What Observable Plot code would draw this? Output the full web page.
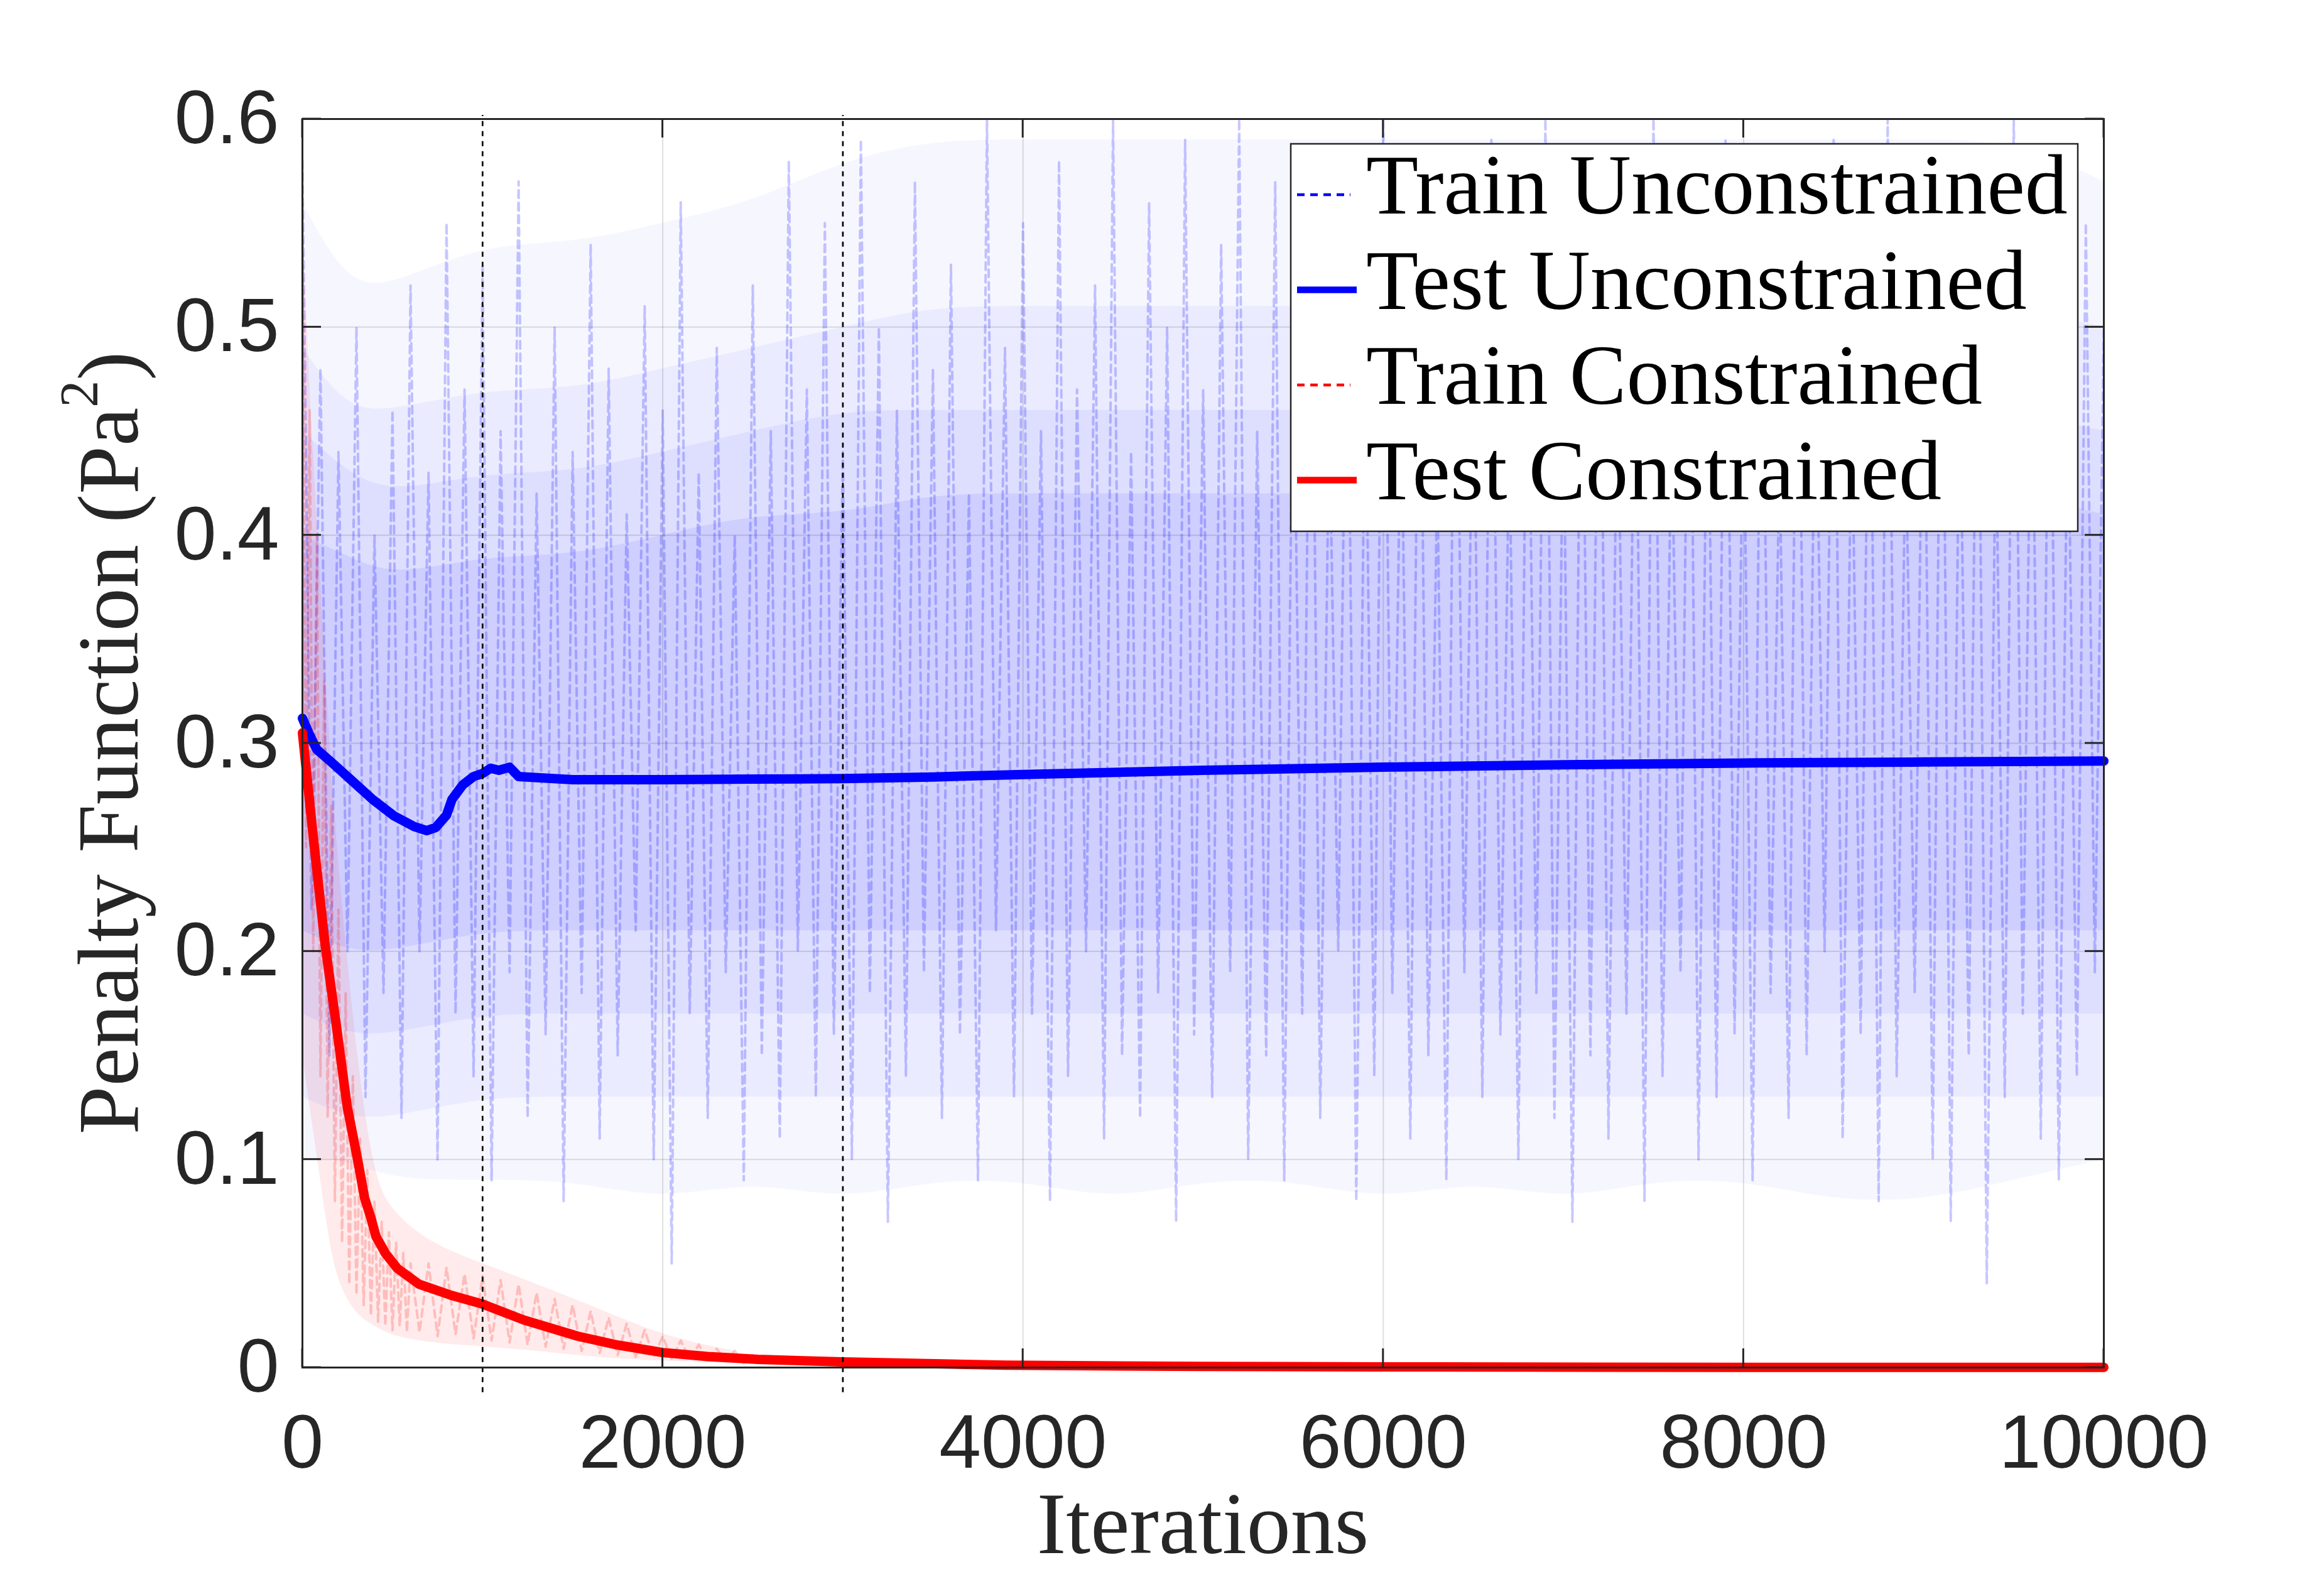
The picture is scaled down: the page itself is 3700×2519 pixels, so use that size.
<!DOCTYPE html>
<html>
<head>
<meta charset="utf-8">
<script src="https://cdn.jsdelivr.net/npm/d3@7"></script>
<script src="https://cdn.jsdelivr.net/npm/@observablehq/plot@0.6"></script>
<style>
  html, body { margin: 0; padding: 0; background: #ffffff; }
  #chart svg { display: block; }
</style>
</head>
<body>
<div id="chart"></div>
<script>
// ---------- data ----------
const xTicks = [0, 2000, 4000, 6000, 8000, 10000];
const yTicks = [0, 0.1, 0.2, 0.3, 0.4, 0.5, 0.6];
const yTickLabels = ["0", "0.1", "0.2", "0.3", "0.4", "0.5", "0.6"];
const vlineIters = [1000, 3000];

const seriesNames = ["Train Unconstrained", "Test Unconstrained", "Train Constrained", "Test Constrained"];

// Test Unconstrained (solid blue)
const testUncIters = [0, 40, 80, 160, 275, 390, 510, 620, 690, 740, 800, 830, 890, 950, 1000, 1045, 1090, 1150, 1200, 1320, 1500, 2000, 2500, 3000, 3500, 4000, 5000, 6000, 7000, 8000, 9000, 10000];
const testUncVals = [0.312, 0.304, 0.297, 0.291, 0.282, 0.273, 0.265, 0.260, 0.258, 0.2595, 0.2655, 0.273, 0.280, 0.284, 0.2855, 0.288, 0.287, 0.2885, 0.284, 0.2834, 0.2825, 0.2825, 0.2828, 0.283, 0.2838, 0.285, 0.287, 0.2885, 0.2897, 0.2905, 0.291, 0.2915];

// Test Constrained (solid red)
const testConIters = [0, 60, 126, 188, 248, 307, 345, 380, 408, 460, 526, 648, 826, 1000, 1227, 1527, 1750, 2000, 2250, 2528, 3000, 3900, 5000, 6000, 8000, 10000];
const testConVals = [0.305, 0.255, 0.203, 0.1645, 0.1256, 0.0996, 0.0815, 0.072, 0.063, 0.055, 0.0477, 0.040, 0.0347, 0.0305, 0.0229, 0.0151, 0.0108, 0.0072, 0.0053, 0.0039, 0.0027, 0.0011, 0.0005, 0.0003, 0.0001, 0.0001];

// Train Unconstrained: spread of the noisy training values (read envelope, outer to inner)
const bandIters = [0, 250, 500, 1000, 1500, 2000, 2500, 3000, 3500, 4000, 4500, 5000, 5500, 6000, 6500, 7000, 7500, 8000, 8500, 9000, 9500, 10000];
const outerLo = [0.10, 0.10, 0.09, 0.09, 0.09, 0.08, 0.09, 0.08, 0.09, 0.09, 0.08, 0.09, 0.09, 0.08, 0.09, 0.08, 0.09, 0.09, 0.08, 0.08, 0.09, 0.10];
const outerHi = [0.56, 0.52, 0.52, 0.54, 0.54, 0.55, 0.56, 0.58, 0.59, 0.59, 0.59, 0.59, 0.59, 0.59, 0.59, 0.59, 0.59, 0.59, 0.59, 0.59, 0.59, 0.57];
const midLo = [0.13, 0.12, 0.12, 0.13, 0.13, 0.13, 0.13, 0.13, 0.13, 0.13, 0.13, 0.13, 0.13, 0.13, 0.13, 0.13, 0.13, 0.13, 0.13, 0.13, 0.13, 0.13];
const midHi = [0.49, 0.46, 0.46, 0.47, 0.47, 0.48, 0.49, 0.50, 0.51, 0.51, 0.51, 0.51, 0.51, 0.51, 0.51, 0.51, 0.51, 0.51, 0.51, 0.51, 0.51, 0.50];
const innerLo = [0.17, 0.16, 0.16, 0.17, 0.17, 0.17, 0.17, 0.17, 0.17, 0.17, 0.17, 0.17, 0.17, 0.17, 0.17, 0.17, 0.17, 0.17, 0.17, 0.17, 0.17, 0.17];
const innerHi = [0.45, 0.43, 0.42, 0.43, 0.43, 0.44, 0.45, 0.46, 0.46, 0.46, 0.46, 0.46, 0.46, 0.46, 0.46, 0.46, 0.46, 0.46, 0.46, 0.46, 0.46, 0.45];
const coreLo = [0.21, 0.20, 0.20, 0.21, 0.21, 0.21, 0.21, 0.21, 0.21, 0.21, 0.21, 0.21, 0.21, 0.21, 0.21, 0.21, 0.21, 0.21, 0.21, 0.21, 0.21, 0.21];
const coreHi = [0.40, 0.39, 0.38, 0.39, 0.39, 0.40, 0.41, 0.41, 0.42, 0.42, 0.42, 0.42, 0.42, 0.42, 0.42, 0.42, 0.42, 0.42, 0.42, 0.42, 0.42, 0.41];

// Train Unconstrained: sampled spikes, one value every 50 iterations
const trainUncStep = 50;
const trainUncVals = [
  0.58, 0.22, 0.48, 0.15, 0.44, 0.20, 0.50, 0.13, 0.40, 0.18,
  0.46, 0.12, 0.52, 0.20, 0.43, 0.10, 0.55, 0.17, 0.47, 0.14,
  0.53, 0.09, 0.45, 0.19, 0.57, 0.12, 0.42, 0.16, 0.50, 0.08,
  0.44, 0.18, 0.54, 0.11, 0.48, 0.15, 0.41, 0.21, 0.51, 0.10,
  0.46, 0.05, 0.56, 0.17, 0.43, 0.12, 0.49, 0.19, 0.40, 0.09,
  0.52, 0.15, 0.45, 0.11, 0.58, 0.20, 0.47, 0.13, 0.55, 0.16,
  0.44, 0.10, 0.59, 0.18, 0.50, 0.07, 0.46, 0.14, 0.57, 0.19,
  0.48, 0.12, 0.53, 0.16, 0.42, 0.09, 0.60, 0.21, 0.49, 0.13,
  0.55, 0.17, 0.45, 0.08, 0.58, 0.14, 0.47, 0.20, 0.52, 0.11,
  0.60, 0.15, 0.44, 0.12, 0.56, 0.18, 0.50, 0.07, 0.59, 0.16,
  0.47, 0.13, 0.54, 0.19, 0.60, 0.10, 0.45, 0.15, 0.57, 0.09,
  0.51, 0.17, 0.58, 0.12, 0.46, 0.20, 0.55, 0.08, 0.49, 0.14,
  0.60, 0.18, 0.48, 0.11, 0.56, 0.15, 0.43, 0.09, 0.58, 0.19,
  0.50, 0.13, 0.59, 0.16, 0.45, 0.10, 0.54, 0.18, 0.60, 0.12,
  0.47, 0.07, 0.55, 0.15, 0.58, 0.11, 0.49, 0.17, 0.53, 0.08,
  0.60, 0.14, 0.46, 0.19, 0.57, 0.10, 0.51, 0.13, 0.59, 0.16,
  0.48, 0.09, 0.56, 0.18, 0.44, 0.12, 0.58, 0.15, 0.50, 0.20,
  0.59, 0.11, 0.47, 0.16, 0.55, 0.08, 0.60, 0.14, 0.45, 0.18,
  0.53, 0.10, 0.58, 0.07, 0.49, 0.15, 0.56, 0.04, 0.46, 0.13,
  0.60, 0.17, 0.52, 0.11, 0.57, 0.09, 0.48, 0.14, 0.55, 0.19,
  0.50
];

// Train Constrained: envelope of noisy training values
const redBandIters = [0, 50, 100, 150, 200, 300, 400, 500, 700, 1000, 1300, 1600, 2000, 2400];
const redBandLo = [0.15, 0.12, 0.09, 0.06, 0.04, 0.025, 0.02, 0.015, 0.012, 0.010, 0.008, 0.005, 0.003, 0.002];
const redBandHi = [0.55, 0.45, 0.38, 0.30, 0.24, 0.15, 0.09, 0.075, 0.06, 0.05, 0.04, 0.03, 0.015, 0.008];

// Train Constrained: sampled spikes
const trainConIters = d3.range(0, 601, 20).concat(d3.range(650, 2501, 50));
const trainConVals = [
  0.56, 0.25, 0.46, 0.20, 0.40, 0.14, 0.33, 0.12, 0.27, 0.08,
  0.22, 0.06, 0.18, 0.04, 0.14, 0.035, 0.11, 0.03, 0.095, 0.025,
  0.08, 0.022, 0.07, 0.02, 0.065, 0.018, 0.06, 0.02, 0.055, 0.017,
  0.05,
  0.017, 0.05, 0.015, 0.048, 0.016, 0.045, 0.014, 0.044, 0.013, 0.042,
  0.012, 0.04, 0.011, 0.036, 0.01, 0.033, 0.009, 0.03, 0.008, 0.027,
  0.007, 0.024, 0.006, 0.021, 0.005, 0.018, 0.005, 0.015, 0.004, 0.013,
  0.004, 0.011, 0.003, 0.009, 0.003, 0.008, 0.002, 0.006
];

// ---------- tables ----------
const testUnc = testUncIters.map((x, i) => ({x, y: testUncVals[i]}));
const testCon = testConIters.map((x, i) => ({x, y: testConVals[i]}));
const band = bandIters.map((x, i) => ({x,
  oLo: outerLo[i], oHi: outerHi[i], mLo: midLo[i], mHi: midHi[i],
  iLo: innerLo[i], iHi: innerHi[i], cLo: coreLo[i], cHi: coreHi[i]}));
const trainUnc = trainUncVals.map((y, i) => ({x: i * trainUncStep, y}));
const redBand = redBandIters.map((x, i) => ({x, lo: redBandLo[i], hi: redBandHi[i]}));
const trainCon = trainConIters.map((x, i) => ({x, y: trainConVals[i]}));

const BLUE = "#0000ff", RED = "#ff0000", AX = "#262626";
const SANS = "Liberation Sans, Arial, Helvetica, sans-serif";
const SERIF = "Liberation Serif, Times New Roman, serif";

const plot = Plot.plot({
  width: 3700,
  height: 2519,
  marginLeft: 481,
  marginRight: 351,
  marginTop: 189,
  marginBottom: 342,
  style: {background: "#ffffff", fontFamily: SANS, color: AX},
  x: {domain: [0, 10000]},
  y: {domain: [0, 0.6]},
  marks: [
    Plot.gridX(xTicks, {stroke: AX, strokeOpacity: 0.15, strokeWidth: 2}),
    Plot.gridY(yTicks, {stroke: AX, strokeOpacity: 0.15, strokeWidth: 2}),
    // train unconstrained spread
    Plot.areaY(band, {x: "x", y1: "oLo", y2: "oHi", fill: BLUE, fillOpacity: 0.035, curve: "basis"}),
    Plot.areaY(band, {x: "x", y1: "mLo", y2: "mHi", fill: BLUE, fillOpacity: 0.045, curve: "basis"}),
    Plot.areaY(band, {x: "x", y1: "iLo", y2: "iHi", fill: BLUE, fillOpacity: 0.055, curve: "basis"}),
    Plot.areaY(band, {x: "x", y1: "cLo", y2: "cHi", fill: BLUE, fillOpacity: 0.07, curve: "basis"}),
    Plot.lineY(trainUnc, {x: "x", y: "y", stroke: BLUE, strokeOpacity: 0.22, strokeWidth: 4, strokeDasharray: "12,8", clip: true}),
    // train constrained spread
    Plot.areaY(redBand, {x: "x", y1: "lo", y2: "hi", fill: RED, fillOpacity: 0.08, curve: "basis"}),
    Plot.lineY(trainCon, {x: "x", y: "y", stroke: RED, strokeOpacity: 0.2, strokeWidth: 4, strokeDasharray: "12,8", clip: true}),
    // test curves
    Plot.lineY(testUnc, {x: "x", y: "y", stroke: BLUE, strokeWidth: 15, strokeLinejoin: "round", strokeLinecap: "round"}),
    Plot.lineY(testCon, {x: "x", y: "y", stroke: RED, strokeWidth: 15, strokeLinejoin: "round", strokeLinecap: "round"}),
    // vertical dashed markers
    Plot.ruleX(vlineIters, {x: d => d, y1: -0.012, y2: 0.6018, stroke: "#000000", strokeWidth: 2.7, strokeDasharray: "8,8"}),
    Plot.frame({stroke: AX, strokeWidth: 3}),
    Plot.axisX(xTicks, {tickSize: 0, tickPadding: 74, fontSize: 120, fill: AX, tickFormat: d => String(d), label: null}),
    Plot.axisY(yTicks, {tickSize: 0, tickPadding: 37, fontSize: 120, fill: AX, tickFormat: (d, i) => yTickLabels[i], label: null})
  ]
});

document.getElementById("chart").appendChild(plot);

// ---------- MATLAB-style inward ticks, labels and legend ----------
const svg = d3.select(plot);
const sx = plot.scale("x"), sy = plot.scale("y");
const x0 = sx.apply(0), x1 = sx.apply(10000), y0 = sy.apply(0), y1 = sy.apply(0.6);
const TL = 30;
const tg = svg.append("g").attr("stroke", AX).attr("stroke-width", 3);
xTicks.forEach(v => {
  const px = sx.apply(v);
  tg.append("line").attr("x1", px).attr("x2", px).attr("y1", y0).attr("y2", y0 - TL);
  tg.append("line").attr("x1", px).attr("x2", px).attr("y1", y1).attr("y2", y1 + TL);
});
yTicks.forEach(v => {
  const py = sy.apply(v);
  tg.append("line").attr("x1", x0).attr("x2", x0 + TL).attr("y1", py).attr("y2", py);
  tg.append("line").attr("x1", x1).attr("x2", x1 - TL).attr("y1", py).attr("y2", py);
});

// axis titles
svg.append("text")
  .attr("x", (x0 + x1) / 2).attr("y", 2473)
  .attr("text-anchor", "middle")
  .attr("font-family", SERIF).attr("font-size", 140).attr("fill", AX)
  .text("Iterations");

const yl = svg.append("text")
  .attr("transform", `translate(219,${(y0 + y1) / 2}) rotate(-90)`)
  .attr("text-anchor", "middle")
  .attr("font-family", SERIF).attr("font-size", 138).attr("fill", AX);
yl.append("tspan").text("Penalty Function (Pa");
yl.append("tspan").attr("dy", -64).attr("font-size", 86).text("2");
yl.append("tspan").attr("dy", 64).text(")");

// legend
const lg = svg.append("g").attr("text-anchor", "start");
lg.append("rect").attr("x", 2055).attr("y", 229).attr("width", 1253).attr("height", 617)
  .attr("fill", "#ffffff").attr("stroke", AX).attr("stroke-width", 2.5);
const legendStyles = [
  {color: BLUE, dashed: true},
  {color: BLUE, dashed: false},
  {color: RED, dashed: true},
  {color: RED, dashed: false}
];
seriesNames.forEach((name, i) => {
  const base = 340 + i * 151.5;
  const st = legendStyles[i];
  lg.append("line")
    .attr("x1", 2065).attr("x2", st.dashed ? 2150 : 2160)
    .attr("y1", base - 30).attr("y2", base - 30)
    .attr("stroke", st.color)
    .attr("stroke-width", st.dashed ? 4.5 : 10.5)
    .attr("stroke-dasharray", st.dashed ? "12,9" : null);
  lg.append("text")
    .attr("x", 2175).attr("y", base)
    .attr("text-anchor", "start")
    .attr("font-family", SERIF).attr("font-size", 136).attr("fill", "#000000")
    .text(name);
});
</script>
</body>
</html>
